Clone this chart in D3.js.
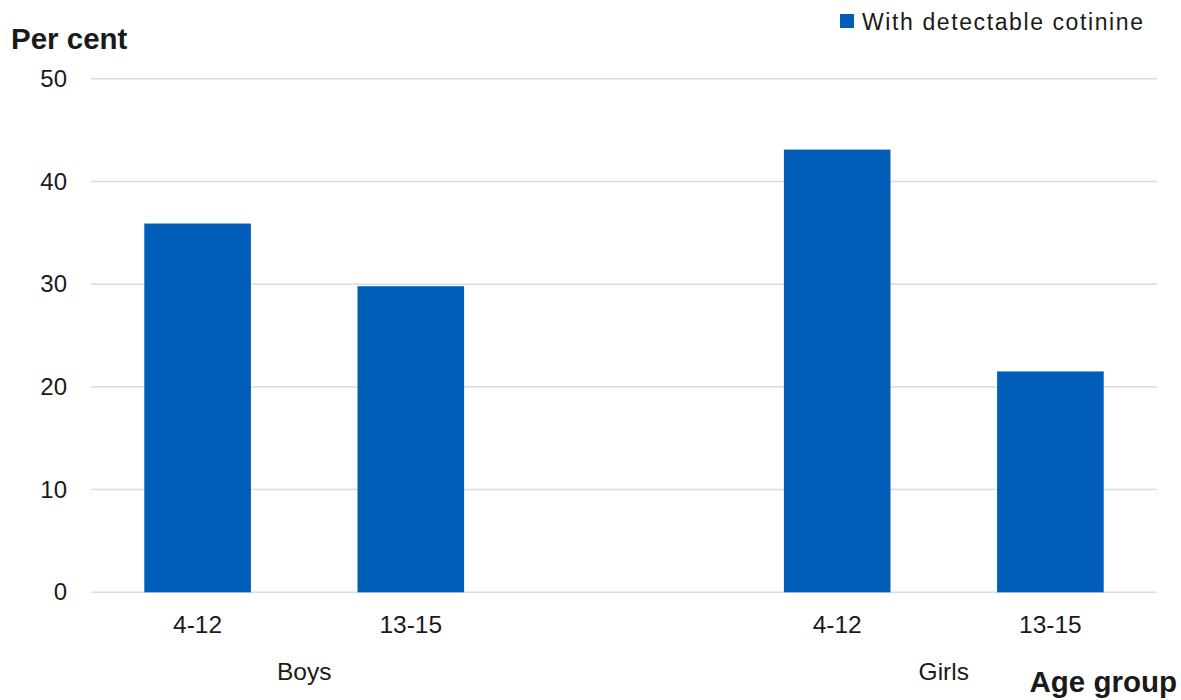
<!DOCTYPE html>
<html>
<head>
<meta charset="utf-8">
<script src="https://cdn.jsdelivr.net/npm/d3@7"></script>
<style>
  html, body { margin: 0; padding: 0; background: #ffffff; }
  svg { display: block; font-family: "Liberation Sans", Arial, sans-serif; }
</style>
</head>
<body>
<svg id="chart" width="1181" height="700"></svg>
<script>
// Share of children with detectable cotinine, by sex and age group
const groups = ["Boys", "Girls"];
const ageGroups = ["4-12", "13-15"];
const boysValues = [35.9, 29.8];
const girlsValues = [43.1, 21.5];
const yTicks = [0, 10, 20, 30, 40, 50];
const seriesName = "With detectable cotinine";

const rows = [];
groups.forEach((g, gi) => {
  const vals = gi === 0 ? boysValues : girlsValues;
  ageGroups.forEach((a, ai) => rows.push({ key: g + "|" + a, group: g, age: a, value: vals[ai] }));
});
// Slot order with an empty category separating the two groups
const slots = [rows[0].key, rows[1].key, "spacer", rows[2].key, rows[3].key];

const svg = d3.select("#chart");
const blue = "#005EB8";
const textColor = "#1a1a1a";

const x = d3.scaleBand().domain(slots).range([91, 1157]).paddingInner(0.5).paddingOuter(0.25);
const y = d3.scaleLinear().domain([0, 50]).range([592.3, 78.7]);

// Horizontal gridlines
svg.append("g").selectAll("line").data(yTicks).join("line")
  .attr("x1", 91).attr("x2", 1157)
  .attr("y1", d => y(d)).attr("y2", d => y(d))
  .attr("stroke", "#d9dce2").attr("stroke-width", 1.5);

// Y-axis labels
const yAxis = d3.axisLeft(y).tickValues(yTicks).tickSize(0).tickPadding(24);
const yg = svg.append("g").attr("transform", "translate(91,0)").call(yAxis);
yg.select(".domain").remove();
yg.selectAll("text").attr("font-size", 24).attr("fill", textColor)
  .attr("font-family", "Liberation Sans, Arial, sans-serif");

// Bars
svg.append("g").selectAll("rect").data(rows).join("rect")
  .attr("x", d => x(d.key))
  .attr("width", x.bandwidth())
  .attr("y", d => y(d.value))
  .attr("height", d => y(0) - y(d.value))
  .attr("fill", blue);

// Age group labels under each bar
svg.append("g").selectAll("text").data(rows).join("text")
  .attr("x", d => x(d.key) + x.bandwidth() / 2)
  .attr("y", 633)
  .attr("text-anchor", "middle")
  .attr("font-size", 24.5).attr("fill", textColor)
  .text(d => d.age);

// Group labels centred under each pair
svg.append("g").selectAll("text").data(groups).join("text")
  .attr("x", g => {
    const ks = rows.filter(r => r.group === g).map(r => x(r.key) + x.bandwidth() / 2);
    return d3.mean(ks);
  })
  .attr("y", 680)
  .attr("text-anchor", "middle")
  .attr("font-size", 24.5).attr("fill", textColor)
  .text(g => g);

// Axis titles
svg.append("text").attr("x", 11).attr("y", 49)
  .attr("font-size", 29.5).attr("font-weight", "bold").attr("fill", textColor)
  .text("Per cent");
svg.append("text").attr("x", 1177).attr("y", 692).attr("text-anchor", "end")
  .attr("font-size", 29.5).attr("font-weight", "bold").attr("fill", textColor)
  .text("Age group");

// Legend
const legend = svg.append("g");
legend.append("rect").attr("x", 840).attr("y", 14).attr("width", 14).attr("height", 14).attr("fill", blue);
legend.append("text").attr("x", 862).attr("y", 29.5)
  .attr("font-size", 23).attr("letter-spacing", 1.6).attr("fill", textColor)
  .text(seriesName);
</script>
</body>
</html>
